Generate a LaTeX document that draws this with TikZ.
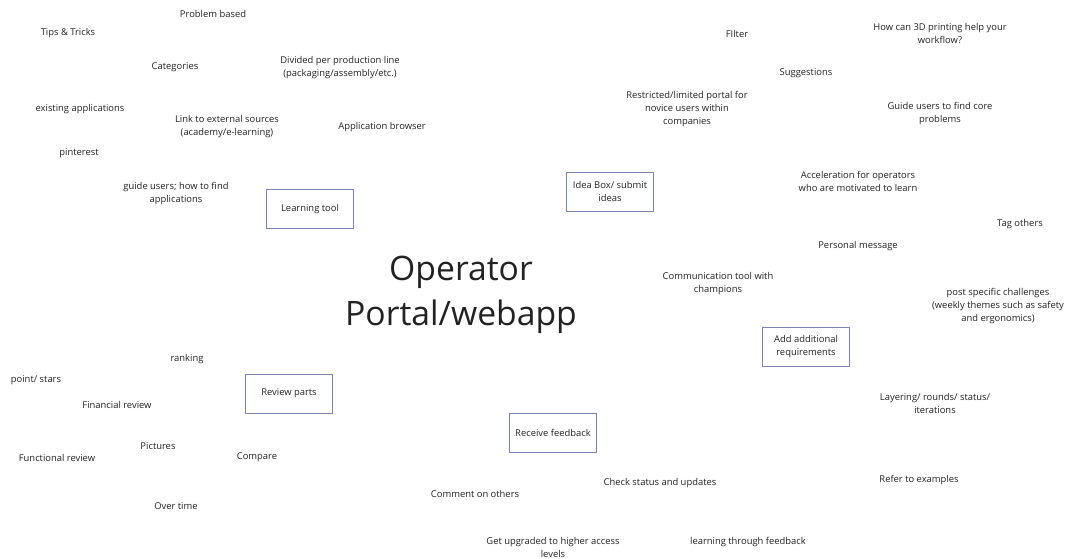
\documentclass[tikz,border=0pt]{standalone}
\usepackage{fontspec}
\setmainfont{Open Sans}
\definecolor{ink}{RGB}{34,34,34}
\definecolor{boxline}{RGB}{122,130,176}
\begin{document}
\begin{tikzpicture}[x=1pt,y=-1pt,
  note/.style={align=center,text=ink,font=\fontsize{9.4}{13}\selectfont,inner sep=0pt,yshift=-1.5pt},
  topic/.style={draw=boxline,line width=0.8pt,minimum width=87pt,minimum height=39pt,
    align=center,text=ink,font=\fontsize{9.4}{13}\selectfont,inner sep=2pt},
  title/.style={align=center,text=ink,font=\fontsize{33.7}{45}\selectfont,inner sep=0pt}]
\useasboundingbox[fill=white] (0,0) rectangle (1070,558);

% central theme
\node[title] (core) at (461,295) {Operator\\Portal/webapp};

% main topics
\node[topic] (learn) at (310,209) {Learning tool};
\node[topic] (idea) at (610,191.5) {Idea Box/ submit\\ideas};
\node[topic] (review) at (289,393.5) {Review parts};
\node[topic] (feedback) at (553,432.5) {Receive feedback};
\node[topic] (require) at (806,346.5) {Add additional\\requirements};

% learning tool ideas
\node[note] (problem) at (213,12) {Problem based};
\node[note] (tips) at (68,32) {Tips \& Tricks};
\node[note] (categories) at (175,66) {Categories};
\node[note] (divided) at (340,66) {Divided per production line\\(packaging/assembly/etc.)};
\node[note] (existing) at (80,108) {existing applications};
\node[note] (external) at (227,125) {Link to external sources\\(academy/e-learning)};
\node[note] (browser) at (382,126) {Application browser};
\node[note] (pinterest) at (79,152) {pinterest};
\node[note] (guide) at (176,192) {guide users; how to find\\applications};

% idea box ideas
\node[note] (filter) at (737,32) {FIlter};
\node[note] (howcan) at (940,32) {How can 3D printing help your\\workflow?};
\node[note] (suggest) at (806,72) {Suggestions};
\node[note] (restrict) at (687,108) {Restricted/limited portal for\\novice users within\\companies};
\node[note] (coreprob) at (940,112) {Guide users to find core\\problems};
\node[note] (accel) at (858,180) {Acceleration for operators\\who are motivated to learn};
\node[note] (tag) at (1020,223) {Tag others};
\node[note] (personal) at (858,245) {Personal message};
\node[note] (comm) at (718,282) {Communication tool with\\champions};
\node[note] (challenge) at (998,305) {post specific challenges\\(weekly themes such as safety\\and ergonomics)};

% review ideas
\node[note] (ranking) at (187,358) {ranking};
\node[note] (stars) at (36,379) {point/ stars};
\node[note] (financial) at (117,403) {Financial review};
\node[note] (pictures) at (158,445) {Pictures};
\node[note] (functional) at (57,456) {Functional review};
\node[note] (compare) at (257,456) {Compare};
\node[note] (overtime) at (176,505) {Over time};

% feedback and requirement ideas
\node[note] (layering) at (935,402) {Layering/ rounds/ status/\\iterations};
\node[note] (examples) at (919,479) {Refer to examples};
\node[note] (status) at (660,482) {Check status and updates};
\node[note] (comment) at (475,492) {Comment on others};
\node[note] (upgrade) at (553,546) {Get upgraded to higher access\\levels};
\node[note] (through) at (748,541) {learning through feedback};
\end{tikzpicture}
\end{document}
